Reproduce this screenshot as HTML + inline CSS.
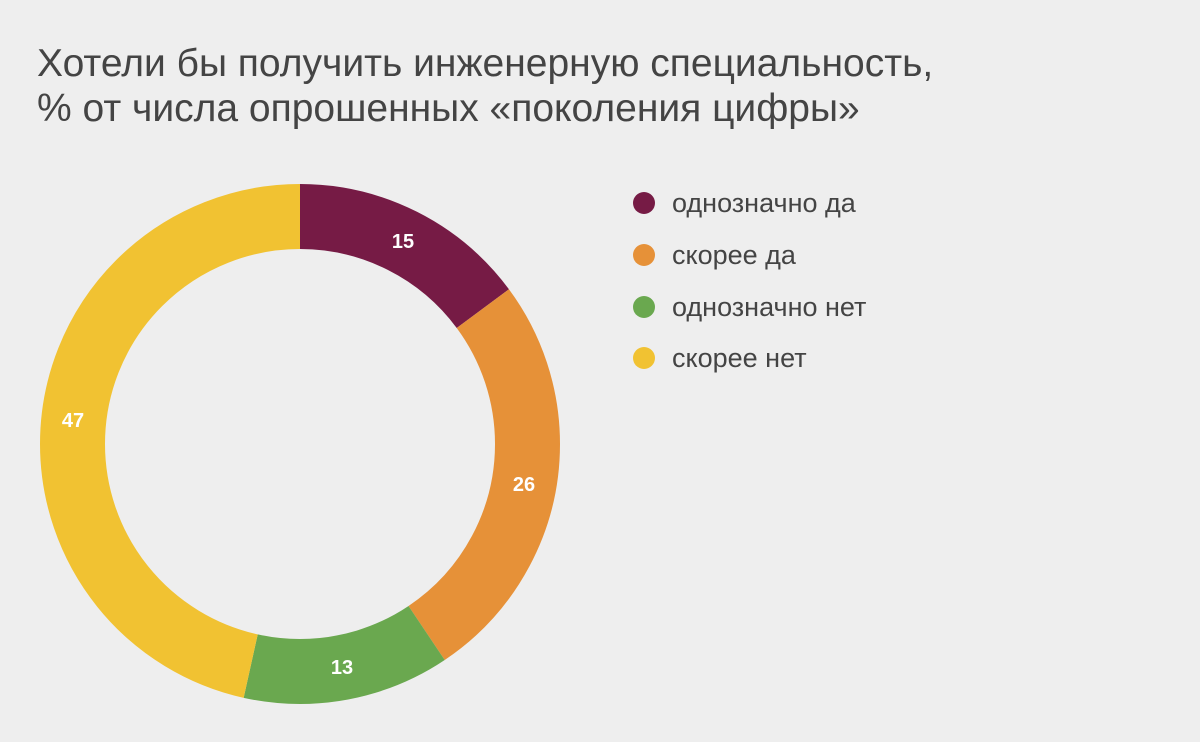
<!DOCTYPE html>
<html><head><meta charset="utf-8"><style>
body{margin:0;background:#eeeeee;}
svg{display:block}
</style></head><body>
<svg width="1200" height="742" xmlns="http://www.w3.org/2000/svg">
<rect width="1200" height="742" fill="#eeeeee"/>
<g font-family="Liberation Sans, sans-serif" fill="#444" font-size="39">
<text x="37" y="76">Хотели бы получить инженерную специальность,</text>
<text x="37" y="121">% от числа опрошенных «поколения цифры»</text>
</g>
<g transform="rotate(-90 300 444)" fill="none" stroke-width="65">
<circle cx="300" cy="444" r="227.5" stroke="#761b45" stroke-dasharray="212.3 2000" stroke-dashoffset="0"/>
<circle cx="300" cy="444" r="227.5" stroke="#e69138" stroke-dasharray="368.0 2000" stroke-dashoffset="-212.3"/>
<circle cx="300" cy="444" r="227.5" stroke="#6aa84f" stroke-dasharray="184.0 2000" stroke-dashoffset="-580.3"/>
<circle cx="300" cy="444" r="227.5" stroke="#f1c232" stroke-dasharray="665.2 2000" stroke-dashoffset="-764.3"/>
</g>
<g font-family="Liberation Sans, sans-serif" fill="#fff" font-size="20" font-weight="bold" text-anchor="middle">
<text x="403" y="248">15</text>
<text x="524" y="491">26</text>
<text x="342" y="674">13</text>
<text x="73" y="427">47</text>
</g>
<g font-family="Liberation Sans, sans-serif" fill="#444" font-size="27">
<circle cx="644" cy="203" r="11" fill="#761b45"/><text x="672" y="212">однозначно да</text>
<circle cx="644" cy="255" r="11" fill="#e69138"/><text x="672" y="264">скорее да</text>
<circle cx="644" cy="307" r="11" fill="#6aa84f"/><text x="672" y="316">однозначно нет</text>
<circle cx="644" cy="358" r="11" fill="#f1c232"/><text x="672" y="367">скорее нет</text>
</g>
</svg>
</body></html>
